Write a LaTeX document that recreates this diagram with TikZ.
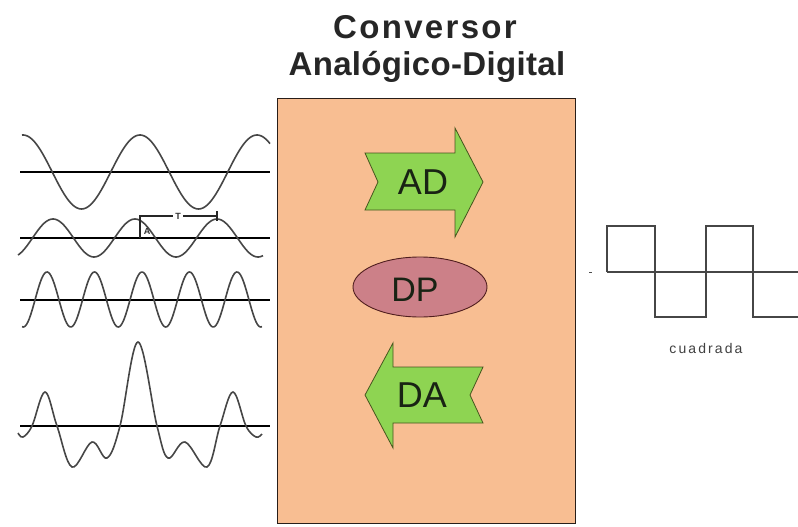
\documentclass[tikz,border=0pt]{standalone}
\usepackage{fontspec}
\setmainfont{Liberation Sans}
\definecolor{boxorange}{RGB}{248,190,146}
\definecolor{boxedge}{RGB}{40,30,25}
\definecolor{arrowgreen}{RGB}{142,212,82}
\definecolor{arrowedge}{RGB}{70,85,30}
\definecolor{dpfill}{RGB}{204,128,136}
\definecolor{dpedge}{RGB}{80,30,30}
\definecolor{textdark}{RGB}{25,35,20}
\definecolor{wavegray}{RGB}{70,70,70}
\begin{document}
\begin{tikzpicture}[x=1pt,y=-1pt,
  axisline/.style={line width=2.4pt, black},
  waveline/.style={line width=1.6pt, draw=wavegray},
  sqline/.style={line width=1.8pt, draw=wavegray, line join=miter},
  arrowshape/.style={fill=arrowgreen, draw=arrowedge, line width=0.8pt, line join=miter},
  bigtext/.style={font=\fontsize{36}{40}\selectfont, text=textdark, inner sep=0pt, anchor=base},
  titletext/.style={font=\fontsize{33}{38}\selectfont\bfseries, text=black!85, inner sep=0pt, anchor=base},
  marktext/.style={font=\fontsize{9}{10}\selectfont\bfseries, text=black!80, inner sep=0pt}
]
\useasboundingbox (0,0) rectangle (798,527);
\fill[white] (0,0) rectangle (798,527);

% title
\node[titletext] (title1) at (425,39) {\addfontfeature{LetterSpace=7}Conversor};
\node[titletext] (title2) at (427,75) {\addfontfeature{LetterSpace=1}Analógico-Digital};

% converter box
\draw[fill=boxorange, draw=boxedge, line width=0.9pt] (277,98) rectangle (575,523);

% AD arrow
\draw[arrowshape] (365,153) -- (455,153) -- (455,128) -- (483,182) -- (455,237) -- (455,210) -- (365,210) -- (378,182) -- cycle;
\node[bigtext] (ad) at (423,194) {AD};

% DP ellipse
\draw[fill=dpfill, draw=dpedge, line width=0.9pt] (420,287) ellipse [x radius=67, y radius=30];
\node[bigtext, font=\fontsize{34}{38}\selectfont] (dp) at (415,301) {DP};

% DA arrow
\draw[arrowshape] (365,395) -- (393,343) -- (393,367) -- (483,367) -- (470,395) -- (483,423) -- (393,423) -- (393,448) -- cycle;
\node[bigtext] (da) at (422,407) {DA};

% wave 1
\draw[axisline] (20,172) -- (270,172);
\draw[waveline] plot[domain=22:270, samples=160] (\x, {172-37*cos((\x-140)/117*360)});

% wave 2
\draw[axisline] (20,238) -- (270,238);
\draw[waveline] plot[domain=18:263, samples=160] (\x, {238-19*cos((\x-53)/82*360)});
\coordinate (tl) at (140,216);
\coordinate (tr) at (217,216);
\draw[line width=1.4pt, black!85] (140,238) -- (tl) -- (tr);
\draw[line width=1.4pt, black!85] (217,211) -- (217,221);
\node[marktext, fill=white, inner xsep=2pt] (tlab) at (178,216) {T};
\node[marktext] (alab) at (147,231) {A};

% wave 3
\draw[axisline] (20,300) -- (270,300);
\draw[waveline] plot[domain=22:262, samples=200] (\x, {299.5-27.5*cos((\x-47)/47.5*360)});

% wave 4
\draw[axisline] (20,426) -- (270,426);
\draw[waveline] plot[smooth, tension=0.6] coordinates {
 (18,433) (23,437) (32,426) (45,392) (57,426) (72,467) (92,442) (107,458)
 (120,426) (138,342) (157,426) (168,458) (185,442) (207,467) (220,426)
 (233,392) (246,426) (256,437) (262,434)};

% square wave
\draw[line width=1.4pt, wavegray] (607,272) -- (798,272);
\draw[sqline] (607,272) -- (607,226) -- (655,226) -- (655,317) -- (706,317) -- (706,226) -- (753,226) -- (753,317) -- (798,317);
\draw[line width=1pt, black!70] (589,272) -- (592,272);
\node[font=\fontsize{14}{16}\selectfont, text=black!75, inner sep=0pt, anchor=base] (cuad) at (706,353) {\addfontfeature{LetterSpace=15}cuadrada};
\end{tikzpicture}
\end{document}
